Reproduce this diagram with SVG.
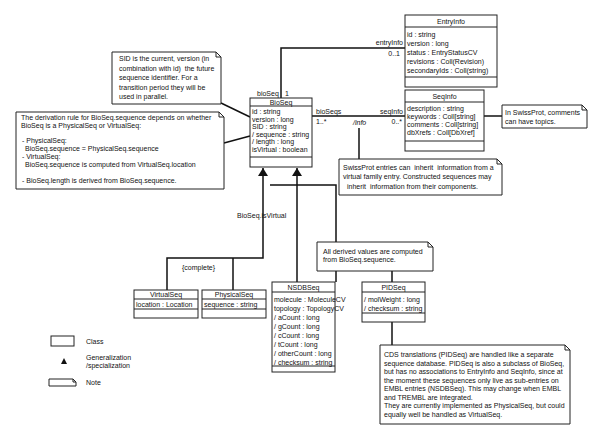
<svg xmlns="http://www.w3.org/2000/svg" width="600" height="447" viewBox="0 0 600 447">
<style>
text{font-family:"Liberation Sans",Arial,sans-serif;font-size:7px;fill:#111}
.t{text-anchor:middle}
.r{text-anchor:end}
.box{fill:#fff;stroke:#222;stroke-width:1}
.ln{fill:none;stroke:#111;stroke-width:1.5}
.nt{fill:#fff;stroke:#222;stroke-width:1}
.i{font-style:italic}
.p{white-space:pre}
</style>
<defs>
<marker id="gen" viewBox="0 0 8 10" refX="8" refY="5" markerWidth="8" markerHeight="10" markerUnits="userSpaceOnUse" orient="auto">
<path d="M0,0 L8,5 L0,10 Z" fill="#111"/>
</marker>
</defs>
<rect width="600" height="447" fill="#fff"/>

<g id="connectors">
<polyline class="ln" points="281,98 281,48 405,48"/>
<line class="ln" x1="312" y1="116" x2="405" y2="116"/>
<line class="ln" x1="484" y1="116" x2="502" y2="116"/>
<line class="ln" x1="359" y1="128" x2="359" y2="159"/>
<line class="ln" x1="221" y1="103" x2="250" y2="117"/>
<line class="ln" x1="224" y1="143" x2="250" y2="136"/>
<polyline class="ln" points="167,290 167,258 263,258 263,168" marker-end="url(#gen)"/>
<polyline class="ln" points="233,290 233,258"/>
<polyline class="ln" points="297,282 297,168" marker-end="url(#gen)"/>
<polyline class="ln" points="270,185 336,185 336,242"/>
<line class="ln" x1="336" y1="271" x2="336" y2="282"/>
<line class="ln" x1="392" y1="271" x2="392" y2="282"/>
<line class="ln" x1="392" y1="322" x2="392" y2="345"/>
</g>

<g id="EntryInfo">
<rect class="box" x="405" y="15" width="92" height="72"/>
<line class="box" x1="405" y1="27" x2="497" y2="27"/>
<line class="box" x1="405" y1="77" x2="497" y2="77"/>
<text class="t" x="451" y="24">EntryInfo</text>
<text x="407" y="37">id : string</text>
<text x="407" y="46">version : long</text>
<text x="407" y="55">status : EntryStatusCV</text>
<text x="407" y="64">revisions : Coll(Revision)</text>
<text x="407" y="73">secondaryIds : Coll(string)</text>
</g>

<g id="SeqInfo">
<rect class="box" x="405" y="90" width="79" height="61"/>
<line class="box" x1="405" y1="102" x2="484" y2="102"/>
<line class="box" x1="405" y1="141" x2="484" y2="141"/>
<text class="t" x="444.5" y="99">SeqInfo</text>
<text x="407" y="111">description : string</text>
<text x="407" y="119">keywords : Coll[string]</text>
<text x="407" y="127">comments : Coll[string]</text>
<text x="407" y="135">dbXrefs : Coll[DbXref]</text>
</g>

<g id="BioSeq">
<rect class="box" x="250" y="98" width="62" height="69"/>
<line class="box" x1="250" y1="106" x2="312" y2="106"/>
<line class="box" x1="250" y1="157" x2="312" y2="157"/>
<text class="t" x="281" y="104.5">BioSeq</text>
<text x="252" y="114">id : string</text>
<text x="252" y="121.5">version : long</text>
<text x="252" y="129">SID : string</text>
<text x="252" y="136.5">/ sequence : string</text>
<text x="252" y="144">/ length : long</text>
<text x="252" y="151.5">isVirtual : boolean</text>
</g>

<g id="labels">
<text class="r" x="403" y="45">entryInfo</text>
<text class="r" x="400" y="56">0..1</text>
<text x="257" y="96">bioSeq</text>
<text x="285" y="96">1</text>
<text x="316" y="114">bioSeqs</text>
<text x="316" y="124">1..*</text>
<text class="r" x="403" y="114">seqInfo</text>
<text class="r" x="402" y="124">0..*</text>
<text class="i" x="353" y="125">/info</text>
<text x="237" y="218">BioSeq.isVirtual</text>
<text x="182" y="270">{complete}</text>
</g>

<g id="noteSID">
<path class="nt" d="M112,52 H216 L221,57 V104 H112 Z M216,52 V57 H221"/>
<text class="p" x="119" y="61">SID is the current, version (in</text>
<text class="p" x="119" y="70.5">combination with id)  the future</text>
<text x="119" y="80">sequence identifier. For a</text>
<text x="119" y="89.5">transition period they will be</text>
<text x="119" y="99">used in parallel.</text>
</g>

<g id="noteDerivation">
<path class="nt" d="M16,112 H219 L224,117 V189 H16 Z M219,112 V117 H224"/>
<text x="21" y="119.5">The derivation rule for BioSeq.sequence depends on whether</text>
<text x="21" y="127.5">BioSeq is a PhysicalSeq or VirtualSeq:</text>
<text x="22" y="143">- PhysicalSeq:</text>
<text x="25" y="151">BioSeq.sequence = PhysicalSeq.sequence</text>
<text x="22" y="159">- VirtualSeq:</text>
<text x="25" y="167">BioSeq.sequence is computed from VirtualSeq.location</text>
<text x="22" y="183">- BioSeq.length is derived from BioSeq.sequence.</text>
</g>

<g id="noteComments">
<path class="nt" d="M502,105 H582 L587,110 V128 H502 Z M582,105 V110 H587"/>
<text x="505" y="115">In SwissProt, comments</text>
<text x="505" y="124">can have topics.</text>
</g>

<g id="noteSwissProt">
<path class="nt" d="M339,159 H497 L502,164 V195 H339 Z M497,159 V164 H502"/>
<text class="p" x="343" y="169.5">SwissProt entries can  inherit  information from a</text>
<text x="343" y="179">virtual family entry. Constructed sequences may</text>
<text class="p" x="345" y="188.5"> inherit  information from their components.</text>
</g>

<g id="noteDerived">
<path class="nt" d="M317,242 H428 L433,247 V271 H317 Z M428,242 V247 H433"/>
<text x="323" y="254">All derived values are computed</text>
<text x="323" y="262">from BioSeq.sequence.</text>
</g>

<g id="VirtualSeq">
<rect class="box" x="134" y="290" width="64" height="28"/>
<line class="box" x1="134" y1="299" x2="198" y2="299"/>
<line class="box" x1="134" y1="309" x2="198" y2="309"/>
<text class="t" x="166" y="297">VirtualSeq</text>
<text x="136" y="306.5">location : Location</text>
</g>

<g id="PhysicalSeq">
<rect class="box" x="202" y="290" width="64" height="28"/>
<line class="box" x1="202" y1="299" x2="266" y2="299"/>
<line class="box" x1="202" y1="309" x2="266" y2="309"/>
<text class="t" x="234" y="297">PhysicalSeq</text>
<text x="204" y="306.5">sequence : string</text>
</g>

<g id="NSDBSeq">
<rect class="box" x="272" y="282" width="63" height="90"/>
<line class="box" x1="272" y1="292" x2="335" y2="292"/>
<line class="box" x1="272" y1="366" x2="335" y2="366"/>
<text class="t" x="303.5" y="290">NSDBSeq</text>
<text x="274" y="302">molecule : MoleculeCV</text>
<text x="274" y="311">topology : TopologyCV</text>
<text x="274" y="320">/ aCount : long</text>
<text x="274" y="329">/ gCount : long</text>
<text x="274" y="338">/ cCount : long</text>
<text x="274" y="347">/ tCount : long</text>
<text x="274" y="356">/ otherCount : long</text>
<text x="274" y="364.5">/ checksum : string</text>
</g>

<g id="PIDSeq">
<rect class="box" x="362" y="282" width="63" height="40"/>
<line class="box" x1="362" y1="292" x2="425" y2="292"/>
<line class="box" x1="362" y1="313" x2="425" y2="313"/>
<text class="t" x="393.5" y="290">PIDSeq</text>
<text x="364" y="302">/ molWeight : long</text>
<text x="364" y="311">/ checksum : string</text>
</g>

<g id="noteCDS">
<path class="nt" d="M380,345 H565 L570,350 V424 H380 Z M565,345 V350 H570"/>
<text x="384" y="357">CDS translations (PIDSeq) are handled like a separate</text>
<text x="384" y="365.5">sequence database. PIDSeq is also a subclass of BioSeq,</text>
<text x="384" y="374">but has no associations to EntryInfo and SeqInfo, since at</text>
<text x="384" y="382.5">the moment these sequences only live as sub-entries on</text>
<text x="384" y="391">EMBL entries (NSDBSeq). This may change when EMBL</text>
<text x="384" y="399.5">and TREMBL are integrated.</text>
<text x="384" y="408">They are currently implemented as PhysicalSeq, but could</text>
<text x="384" y="416.5">equally well be handled as VirtualSeq.</text>
</g>

<g id="legend">
<rect class="box" x="51" y="336" width="23" height="10"/>
<text x="86" y="344">Class</text>
<path d="M61,364 L64,358 L67,364 Z" fill="#111"/>
<text x="86" y="360">Generalization</text>
<text x="86" y="368">/specialization</text>
<path class="nt" d="M49,379 H73 L76,382 V386 H49 Z M73,379 V382 H76"/>
<text x="86" y="385">Note</text>
</g>
</svg>
